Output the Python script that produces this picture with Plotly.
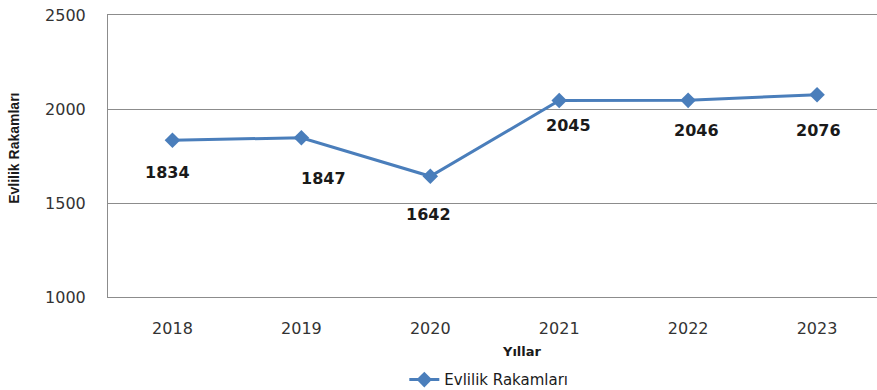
import plotly.graph_objects as go

# Yearly marriage counts
years = ["2018", "2019", "2020", "2021", "2022", "2023"]
marriages = [1834, 1847, 1642, 2045, 2046, 2076]

# Pixel offsets of each value label relative to its marker
label_dx = [-5, 22, -2, 9, 8, 1]
label_dy = [-32, -41, -38, -25, -30, -36]

LINE_BLUE = "#4a7ebb"
GRID = "#8c8c8c"
TEXT = "#1a1a1a"

fig = go.Figure()
fig.add_trace(go.Scatter(
    x=years, y=marriages,
    mode="lines+markers",
    name="Evlilik Rakamları",
    line=dict(color=LINE_BLUE, width=3),
    marker=dict(symbol="diamond", size=12, color=LINE_BLUE),
))

for i, (val, dx, dy) in enumerate(zip(marriages, label_dx, label_dy)):
    fig.add_annotation(
        x=i, y=val, text=f"<b>{val}</b>", showarrow=False,
        xshift=dx, yshift=dy,
        font=dict(family="DejaVu Sans", size=16, color=TEXT),
    )

fig.add_annotation(
    xref="paper", yref="paper", x=(14 - 107.5) / 769.5, y=(297 - 148) / 282.5,
    xanchor="center", yanchor="middle",
    text="<b>Evlilik Rakamları</b>", textangle=-90, showarrow=False,
    font=dict(family="Liberation Sans", size=14, color=TEXT),
)
fig.add_annotation(
    xref="paper", yref="paper", x=(522 - 107.5) / 769.5, y=(297 - 352) / 282.5,
    xanchor="center", yanchor="middle",
    text="<b>Yıllar</b>", showarrow=False,
    font=dict(family="DejaVu Sans", size=13, color=TEXT),
)

fig.update_layout(
    width=877, height=390,
    margin=dict(l=107.5, r=0, t=14.5, b=93, autoexpand=False),
    paper_bgcolor="white", plot_bgcolor="white",
    showlegend=True,
    legend=dict(
        orientation="h", x=(404 - 107.5) / 769.5, y=(297 - 380) / 282.5,
        xanchor="left", yanchor="middle",
        font=dict(family="DejaVu Sans", size=15, color=TEXT),
        bgcolor="rgba(0,0,0,0)",
    ),
    xaxis=dict(
        type="category", range=[-0.5, 5.465],
        showgrid=False, showline=True, linecolor=GRID, linewidth=1, mirror=True,
        ticks="", ticklabelstandoff=17,
        tickfont=dict(family="DejaVu Sans", size=16, color="#333333"),
    ),
    yaxis=dict(
        range=[1000, 2500], dtick=500, tick0=1000,
        showgrid=True, gridcolor=GRID, gridwidth=1,
        showline=True, linecolor=GRID, linewidth=1, zeroline=False,
        ticks="", ticklabelstandoff=18,
        tickfont=dict(family="DejaVu Sans", size=16, color="#333333"),
    ),
)

fig.write_html("out.html")
